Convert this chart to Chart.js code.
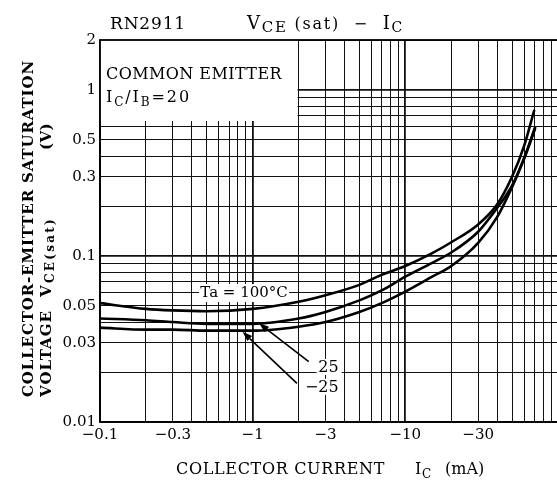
<!DOCTYPE html>
<html>
<head>
<meta charset="utf-8">
<script src="https://cdn.jsdelivr.net/npm/chart.js@4.4.0/dist/chart.umd.min.js"></script>
<style>
  html, body { margin: 0; padding: 0; background: #fff; overflow: hidden; }
</style>
</head>
<body>
<canvas id="chart" width="562" height="485"></canvas>
<script>
// collector current in mA (negative, PNP) and VCE(sat) in V
const currentHot = [-0.1, -0.2, -0.3, -0.5, -1, -2, -3, -5, -7, -10, -15, -20, -30, -40, -50, -60, -70];
const vceHot = [0.052, 0.048, 0.047, 0.0465, 0.048, 0.053, 0.058, 0.067, 0.077, 0.087, 0.104, 0.121, 0.155, 0.205, 0.30, 0.46, 0.76];

const currentRoom = [-0.1, -0.2, -0.3, -0.5, -1, -2, -3, -5, -7, -10, -15, -20, -30, -40, -50, -60, -71];
const vceRoom = [0.042, 0.041, 0.040, 0.039, 0.039, 0.042, 0.046, 0.054, 0.062, 0.075, 0.091, 0.105, 0.14, 0.195, 0.265, 0.39, 0.60];

const currentCold = [-0.1, -0.2, -0.3, -0.5, -1, -2, -3, -5, -7, -10, -15, -20, -30, -40, -50, -60, -71];
const vceCold = [0.037, 0.036, 0.036, 0.0355, 0.0355, 0.0375, 0.040, 0.046, 0.052, 0.061, 0.075, 0.087, 0.12, 0.172, 0.26, 0.385, 0.59];

const xTickValues = [-0.1, -0.3, -1, -3, -10, -30];
const xTickLabels = ['\u22120.1', '\u22120.3', '\u22121', '\u22123', '\u221210', '\u221230'];
const yTickValues = [0.01, 0.03, 0.05, 0.1, 0.3, 0.5, 1, 2];
const yTickLabels = ['0.01', '0.03', '0.05', '0.1', '0.3', '0.5', '1', '2'];

// label / arrow placement in data units (|IC| mA, V)
const notes = {
  hot: { x: 0.878, y: 0.0598, text: 'Ta = 100\u00b0C' },
  room: { x: 3.66, y: 0.020, text: '25' },
  cold: { x: 3.66, y: 0.0152, text: '\u221225' },
  arrows: [
    { from: [2.33, 0.0231], to: [1.1, 0.0393] },
    { from: [1.95, 0.0171], to: [0.858, 0.035] }
  ]
};

const FONT = '"DejaVu Serif", "Liberation Serif", serif';

function logGrid(min, max, skipAbove) {
  const out = [];
  for (let d = min; d < max; d *= 10) {
    for (let m = 1; m < 10; m++) {
      const v = +(d * m).toPrecision(3);
      if (v > max) break;
      if (skipAbove && v > skipAbove) continue;
      out.push(v);
    }
  }
  if (out[out.length - 1] !== max) out.push(max);
  return out;
}
const xGrid = logGrid(0.1, 100);
const yGrid = logGrid(0.01, 2, 1);

function isMajor(v) {
  const l = Math.log10(v);
  return Math.abs(l - Math.round(l)) < 1e-6;
}
function labelFor(v, values, labels) {
  const i = values.findIndex(t => Math.abs(Math.abs(t) - v) / v < 1e-6);
  return i >= 0 ? labels[i] : '';
}

function pts(xs, ys) {
  return xs.map((x, i) => ({ x: Math.abs(x), y: ys[i] }));
}

function fontOf(p) {
  return (p.bold ? 'bold ' : '') + p.size + 'px ' + FONT;
}
function drawRuns(ctx, parts, x, y, target) {
  ctx.letterSpacing = '0px';
  let w = 0, n = 0;
  for (const p of parts) {
    ctx.font = fontOf(p);
    w += ctx.measureText(p.t).width;
    n += [...p.t].length;
  }
  const s = target ? Math.max(0, (target - w) / n) : 0;
  for (const p of parts) {
    ctx.font = fontOf(p);
    ctx.letterSpacing = s + 'px';
    ctx.fillText(p.t, x, y + (p.dy || 0));
    x += ctx.measureText(p.t).width;
  }
  ctx.letterSpacing = '0px';
  return x;
}

const overlay = {
  id: 'overlay',
  beforeDatasetsDraw(chart) {
    const { ctx, chartArea: a, scales: { x, y } } = chart;
    ctx.save();
    ctx.fillStyle = '#fff';
    // white panel for the condition text, top-left
    const bx = x.getPixelForValue(2) - 1;
    const by = y.getPixelForValue(0.65);
    ctx.fillRect(a.left, a.top, bx - a.left, by - a.top);
    // backgrounds for curve labels
    ctx.font = '15px ' + FONT;
    const h = notes.hot;
    const hx = x.getPixelForValue(h.x), hy = y.getPixelForValue(h.y);
    ctx.fillRect(hx - 45, hy - 9, 90, 18);
    for (const n of [notes.room, notes.cold]) {
      const nx = x.getPixelForValue(n.x), ny = y.getPixelForValue(n.y);
      const w = ctx.measureText(n.text).width;
      ctx.fillRect(nx - w - 3, ny - 13, w + 6, 16);
    }
    ctx.restore();
  },
  afterDatasetsDraw(chart) {
    const { ctx, chartArea: a, scales: { x, y } } = chart;
    ctx.save();
    ctx.strokeStyle = '#000';
    ctx.lineWidth = 1.8;
    ctx.strokeRect(a.left, a.top, a.right - a.left, a.bottom - a.top);

    ctx.fillStyle = '#000';
    // condition text
    ctx.textBaseline = 'alphabetic';
    ctx.textAlign = 'left';
    drawRuns(ctx, [{ t: 'COMMON EMITTER', size: 16 }], a.left + 6, 79, 176);
    drawRuns(ctx, [
      { t: 'I', size: 16 }, { t: 'C', size: 12, dy: 4 }, { t: '/', size: 16 },
      { t: 'I', size: 16 }, { t: 'B', size: 12, dy: 4 }, { t: '=20', size: 16 }
    ], a.left + 6, 102, 85);

    // curve labels
    const h = notes.hot;
    ctx.textAlign = 'center';
    ctx.textBaseline = 'middle';
    ctx.font = '15px ' + FONT;
    ctx.fillText(h.text, x.getPixelForValue(h.x), y.getPixelForValue(h.y));
    ctx.textAlign = 'right';
    ctx.textBaseline = 'alphabetic';
    ctx.font = '16px ' + FONT;
    for (const n of [notes.room, notes.cold]) {
      ctx.fillText(n.text, x.getPixelForValue(n.x), y.getPixelForValue(n.y));
    }

    // leader arrows
    ctx.lineWidth = 1.6;
    for (const ar of notes.arrows) {
      const x0 = x.getPixelForValue(ar.from[0]), y0 = y.getPixelForValue(ar.from[1]);
      const x1 = x.getPixelForValue(ar.to[0]), y1 = y.getPixelForValue(ar.to[1]);
      const ang = Math.atan2(y1 - y0, x1 - x0);
      const len = 10, half = 3.5;
      const bxp = x1 - len * Math.cos(ang), byp = y1 - len * Math.sin(ang);
      ctx.beginPath();
      ctx.moveTo(x0, y0);
      ctx.lineTo(bxp, byp);
      ctx.stroke();
      ctx.beginPath();
      ctx.moveTo(x1, y1);
      ctx.lineTo(bxp + half * Math.sin(ang), byp - half * Math.cos(ang));
      ctx.lineTo(bxp - half * Math.sin(ang), byp + half * Math.cos(ang));
      ctx.closePath();
      ctx.fill();
    }
    ctx.restore();
  },
  afterDraw(chart) {
    const { ctx } = chart;
    ctx.save();
    ctx.fillStyle = '#000';
    ctx.textBaseline = 'alphabetic';
    ctx.textAlign = 'left';
    // title
    drawRuns(ctx, [{ t: 'RN2911', size: 17 }], 110, 29, 76);
    drawRuns(ctx, [
      { t: 'V', size: 18 }, { t: 'CE', size: 15, dy: 3 }, { t: ' (sat)', size: 16 },
      { t: '  \u2212  ', size: 16 }, { t: 'I', size: 18 }, { t: 'C', size: 14, dy: 3 }
    ], 247, 29, 157);

    // x-axis title
    drawRuns(ctx, [{ t: 'COLLECTOR CURRENT', size: 16 }], 176, 474, 209);
    drawRuns(ctx, [{ t: 'I', size: 16 }, { t: 'C', size: 12, dy: 4 }], 415, 474, 17);
    drawRuns(ctx, [{ t: '(mA)', size: 16 }], 445, 474, 37);

    // y-axis title, two rotated lines
    ctx.save();
    ctx.translate(33, 397);
    ctx.rotate(-Math.PI / 2);
    drawRuns(ctx, [{ t: 'COLLECTOR-EMITTER SATURATION', size: 15, bold: true }], 0, 0, 337);
    ctx.restore();
    ctx.save();
    ctx.translate(51, 397);
    ctx.rotate(-Math.PI / 2);
    drawRuns(ctx, [{ t: 'VOLTAGE', size: 15, bold: true }], 0, 0, 87);
    drawRuns(ctx, [{ t: 'V', size: 15, bold: true }, { t: 'CE(sat)', size: 12, bold: true, dy: 3 }], 100, 0, 80);
    drawRuns(ctx, [{ t: '(V)', size: 15, bold: true }], 247, 0, 27);
    ctx.restore();
    ctx.restore();
  }
};

const curveStyle = {
  borderColor: '#000',
  borderWidth: 2.6,
  pointRadius: 0,
  fill: false,
  cubicInterpolationMode: 'monotone'
};

new Chart(document.getElementById('chart'), {
  type: 'line',
  data: {
    datasets: [
      { label: 'Ta=100', data: pts(currentHot, vceHot), ...curveStyle },
      { label: 'Ta=25', data: pts(currentRoom, vceRoom), ...curveStyle },
      { label: 'Ta=-25', data: pts(currentCold, vceCold), ...curveStyle }
    ]
  },
  options: {
    responsive: false,
    animation: false,
    layout: { padding: { top: 40, right: 1, left: 0, bottom: 0 } },
    plugins: { legend: { display: false }, tooltip: { enabled: false } },
    scales: {
      x: {
        type: 'logarithmic',
        min: 0.1,
        max: 100,
        afterBuildTicks: s => { s.ticks = xGrid.map(v => ({ value: v })); },
        afterFit: s => { s.height = 63; },
        border: { display: false },
        grid: {
          drawTicks: false,
          color: '#111',
          lineWidth: c => (c.tick && isMajor(c.tick.value) ? 1.8 : 1)
        },
        ticks: {
          autoSkip: false,
          maxRotation: 0,
          padding: 4,
          color: '#000',
          font: { family: FONT, size: 15 },
          callback: v => labelFor(v, xTickValues, xTickLabels)
        }
      },
      y: {
        type: 'logarithmic',
        min: 0.01,
        max: 2,
        afterBuildTicks: s => { s.ticks = yGrid.map(v => ({ value: v })); },
        afterFit: s => { s.width = 100; },
        border: { display: false },
        grid: {
          drawTicks: false,
          color: '#111',
          lineWidth: c => (c.tick && isMajor(c.tick.value) ? 1.8 : 1)
        },
        ticks: {
          autoSkip: false,
          padding: 4,
          color: '#000',
          font: { family: FONT, size: 15 },
          callback: v => labelFor(v, yTickValues, yTickLabels)
        }
      }
    }
  },
  plugins: [overlay]
});
</script>
</body>
</html>
